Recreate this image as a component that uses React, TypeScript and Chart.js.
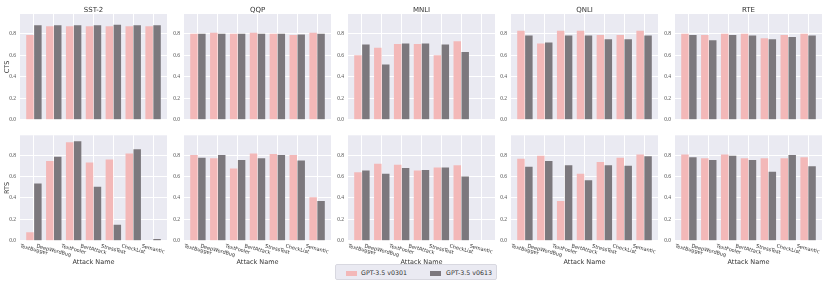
import React, { useEffect, useRef } from "react";
import { Chart, registerables } from "chart.js";

Chart.register(...registerables);

// ---------- data ----------
const taskNames = ["SST-2", "QQP", "MNLI", "QNLI", "RTE"];
const attackNames = ["TextBugger", "DeepWordBug", "TextFooler", "BertAttack", "StressTest", "CheckList", "Semantic"];
const seriesNames = ["GPT-3.5 v0301", "GPT-3.5 v0613"];
const rowMetrics = ["CTS", "RTS"];
const yTickValues = [0, 0.2, 0.4, 0.6, 0.8];
const xAxisTitle = "Attack Name";

// CTS (top row)
const sst2CtsV0301 = [0.79, 0.87, 0.87, 0.87, 0.87, 0.87, 0.87];
const sst2CtsV0613 = [0.88, 0.88, 0.88, 0.88, 0.885, 0.88, 0.88];
const qqpCtsV0301 = [0.8, 0.81, 0.8, 0.81, 0.8, 0.79, 0.81];
const qqpCtsV0613 = [0.8, 0.8, 0.8, 0.8, 0.8, 0.795, 0.8];
const mnliCtsV0301 = [0.6, 0.67, 0.705, 0.705, 0.6, 0.73, 0];
const mnliCtsV0613 = [0.7, 0.515, 0.71, 0.71, 0.7, 0.63, 0];
const qnliCtsV0301 = [0.83, 0.71, 0.83, 0.83, 0.79, 0.79, 0.83];
const qnliCtsV0613 = [0.785, 0.72, 0.785, 0.785, 0.75, 0.75, 0.785];
const rteCtsV0301 = [0.8, 0.79, 0.8, 0.8, 0.76, 0.79, 0.8];
const rteCtsV0613 = [0.79, 0.74, 0.79, 0.785, 0.75, 0.77, 0.785];

// RTS (bottom row)
const sst2RtsV0301 = [0.08, 0.745, 0.92, 0.73, 0.76, 0.815, 0];
const sst2RtsV0613 = [0.535, 0.785, 0.93, 0.505, 0.15, 0.855, 0.015];
const qqpRtsV0301 = [0.8, 0.77, 0.675, 0.815, 0.81, 0.8, 0.405];
const qqpRtsV0613 = [0.775, 0.8, 0.755, 0.77, 0.8, 0.75, 0.37];
const mnliRtsV0301 = [0.64, 0.72, 0.71, 0.655, 0.685, 0.705, 0];
const mnliRtsV0613 = [0.655, 0.625, 0.68, 0.66, 0.685, 0.6, 0];
const qnliRtsV0301 = [0.765, 0.795, 0.37, 0.625, 0.735, 0.775, 0.805];
const qnliRtsV0613 = [0.69, 0.745, 0.705, 0.565, 0.705, 0.7, 0.79];
const rteRtsV0301 = [0.805, 0.77, 0.805, 0.77, 0.77, 0.77, 0.78];
const rteRtsV0613 = [0.78, 0.755, 0.795, 0.755, 0.645, 0.8, 0.695];

const v0301Rows = [
  [sst2CtsV0301, qqpCtsV0301, mnliCtsV0301, qnliCtsV0301, rteCtsV0301],
  [sst2RtsV0301, qqpRtsV0301, mnliRtsV0301, qnliRtsV0301, rteRtsV0301],
];
const v0613Rows = [
  [sst2CtsV0613, qqpCtsV0613, mnliCtsV0613, qnliCtsV0613, rteCtsV0613],
  [sst2RtsV0613, qqpRtsV0613, mnliRtsV0613, qnliRtsV0613, rteRtsV0613],
];

// ---------- style ----------
const PINK = "#f3b8b8";
const GRAY = "#7c787d";
const PANEL_BG = "#eaeaf2";
const TEXT_DARK = "#333333";
const TICK_COLOR = "#555555";
const SANS = '"DejaVu Sans", sans-serif';
const SERIF = '"Liberation Serif", serif';

const PLOT_LEFTS = [20, 184, 347.5, 511, 675];
const PLOT_W = 147;
const ROW_GEOM = [
  { canvasTop: 0, canvasH: 127, plotTop: 14, plotBottom: 122.7 },
  { canvasTop: 128, canvasH: 155, plotTop: 132.3, plotBottom: 240.7 },
];
const LEFT_MARGIN = 20;
const Y_SCALE_W = 14;
const RIGHT_PAD = 2;

function Panel({ row, col }: { row: number; col: number }) {
  const ref = useRef<HTMLCanvasElement | null>(null);
  const g = ROW_GEOM[row];
  const canvasLeft = PLOT_LEFTS[col] - LEFT_MARGIN;
  const canvasW = Math.ceil(LEFT_MARGIN + PLOT_W + RIGHT_PAD);

  useEffect(() => {
    if (!ref.current) return;
    const a = v0301Rows[row][col];
    const b = v0613Rows[row][col];
    const decor = {
      id: "decor" + row + col,
      beforeDraw(chart: any) {
        const { ctx, chartArea } = chart;
        ctx.save();
        ctx.fillStyle = PANEL_BG;
        ctx.fillRect(chartArea.left, chartArea.top, chartArea.right - chartArea.left, chartArea.bottom - chartArea.top);
        ctx.restore();
      },
      afterDraw(chart: any) {
        const { ctx, chartArea } = chart;
        const cx = (chartArea.left + chartArea.right) / 2;
        ctx.save();
        ctx.fillStyle = TEXT_DARK;
        if (row === 0) {
          ctx.font = `7px ${SANS}`;
          ctx.textAlign = "center";
          ctx.textBaseline = "middle";
          ctx.fillText(taskNames[col], cx, 10);
        }
        if (col === 0) {
          ctx.save();
          ctx.font = `6.5px ${SANS}`;
          ctx.textAlign = "center";
          ctx.textBaseline = "middle";
          ctx.translate(7, (chartArea.top + chartArea.bottom) / 2);
          ctx.rotate(-Math.PI / 2);
          ctx.fillText(rowMetrics[row], 0, 0);
          ctx.restore();
        }
        if (row === 1) {
          const xs = chart.scales.x;
          const fs = 5;
          const th = (15 * Math.PI) / 180;
          ctx.font = `${fs}px ${SANS}`;
          ctx.fillStyle = TEXT_DARK;
          attackNames.forEach((lab, i) => {
            const w = ctx.measureText(lab).width;
            const halfH = (w * Math.sin(th) + fs * Math.cos(th)) / 2;
            const px = xs.getPixelForValue(i);
            const py = chartArea.bottom + 3 + halfH;
            ctx.save();
            ctx.translate(px, py);
            ctx.rotate(th);
            ctx.textAlign = "center";
            ctx.textBaseline = "middle";
            ctx.fillText(lab, 0, 0);
            ctx.restore();
          });
          ctx.font = `6.5px ${SANS}`;
          ctx.textAlign = "center";
          ctx.textBaseline = "middle";
          ctx.fillText(xAxisTitle, cx, 262.7 - g.canvasTop);
        }
        ctx.restore();
      },
    };

    const chart = new Chart(ref.current, {
      type: "bar",
      data: {
        datasets: [
          {
            label: seriesNames[0],
            data: a.map((y, i) => ({ x: i, y })),
            backgroundColor: PINK,
            borderWidth: 0,
            categoryPercentage: 0.8,
            barPercentage: 0.94,
          },
          {
            label: seriesNames[1],
            data: b.map((y, i) => ({ x: i, y })),
            backgroundColor: GRAY,
            borderWidth: 0,
            categoryPercentage: 0.8,
            barPercentage: 0.94,
          },
        ],
      } as any,
      options: {
        responsive: false,
        animation: false,
        devicePixelRatio: 1,
        layout: {
          padding: {
            left: LEFT_MARGIN - Y_SCALE_W,
            right: canvasW - LEFT_MARGIN - PLOT_W,
            top: g.plotTop - g.canvasTop,
            bottom: g.canvasTop + g.canvasH - g.plotBottom,
          },
        },
        plugins: {
          legend: { display: false },
          tooltip: { enabled: false },
          title: { display: false },
        },
        scales: {
          x: {
            type: "linear",
            min: -0.7,
            max: 6.7,
            offset: false,
            grid: { color: "#ffffff", lineWidth: 1, drawTicks: false, offset: false },
            border: { display: false },
            ticks: { display: false },
            afterBuildTicks: (s: any) => {
              s.ticks = attackNames.map((_, i) => ({ value: i }));
            },
            afterFit: (s: any) => {
              s.height = 0;
            },
          },
          y: {
            min: 0,
            max: 0.985,
            grid: { color: "#ffffff", lineWidth: 1, drawTicks: false },
            border: { display: false },
            ticks: {
              padding: 4,
              color: TICK_COLOR,
              font: { family: SERIF, size: 5.5 },
              callback: (v: any) => Number(v).toFixed(1),
            },
            afterBuildTicks: (s: any) => {
              s.ticks = yTickValues.map((v) => ({ value: v }));
            },
            afterFit: (s: any) => {
              s.width = Y_SCALE_W;
            },
          },
        },
      } as any,
      plugins: [decor],
    });
    return () => chart.destroy();
  }, [row, col]);

  return (
    <canvas
      ref={ref}
      width={canvasW}
      height={g.canvasH}
      style={{ position: "absolute", left: canvasLeft, top: g.canvasTop, width: canvasW, height: g.canvasH }}
    />
  );
}

function Legend() {
  const item = (color: string, label: string, patchLeft: number, textLeft: number) => (
    <>
      <div style={{ position: "absolute", left: patchLeft, top: 5.5, width: 11, height: 5, background: color }} />
      <span
        style={{
          position: "absolute",
          left: textLeft,
          top: 0,
          height: 16,
          lineHeight: "16px",
          fontSize: 6.3,
          fontFamily: SANS,
          color: TEXT_DARK,
          whiteSpace: "nowrap",
        }}
      >
        {label}
      </span>
    </>
  );
  return (
    <div
      style={{
        position: "absolute",
        left: 335,
        top: 264,
        width: 162,
        height: 16,
        background: PANEL_BG,
        borderRadius: 2,
        border: "0.5px solid #d8d8e0",
        boxSizing: "border-box",
        zIndex: 5,
      }}
    >
      {item(PINK, seriesNames[0], 10, 25)}
      {item(GRAY, seriesNames[1], 94, 110)}
    </div>
  );
}

export default function App() {
  const cells: React.ReactNode[] = [];
  for (let r = 0; r < 2; r++) {
    for (let c = 0; c < 5; c++) {
      cells.push(<Panel key={`${r}-${c}`} row={r} col={c} />);
    }
  }
  return (
    <div style={{ position: "absolute", left: 0, top: 0, width: 830, height: 283, background: "#ffffff", overflow: "hidden" }}>
      {cells}
      <Legend />
    </div>
  );
}
